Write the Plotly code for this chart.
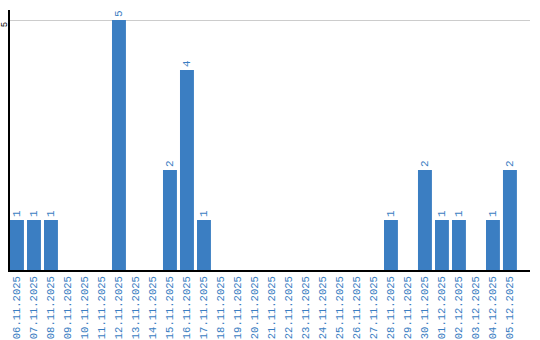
import plotly.graph_objects as go

dates = ["06.11.2025","07.11.2025","08.11.2025","09.11.2025","10.11.2025","11.11.2025",
         "12.11.2025","13.11.2025","14.11.2025","15.11.2025","16.11.2025","17.11.2025",
         "18.11.2025","19.11.2025","20.11.2025","21.11.2025","22.11.2025","23.11.2025",
         "24.11.2025","25.11.2025","26.11.2025","27.11.2025","28.11.2025","29.11.2025",
         "30.11.2025","01.12.2025","02.12.2025","03.12.2025","04.12.2025","05.12.2025"]
counts = [1,1,1,0,0,0,5,0,0,2,4,1,0,0,0,0,0,0,0,0,0,0,1,0,2,1,1,0,1,2]

blue = "#3b7ec2"
labels = [str(v) if v else "" for v in counts]

fig = go.Figure(go.Bar(
    x=list(range(len(dates))), y=counts, marker_color=blue, marker_line_width=0,
    text=labels, textposition="outside", textangle=-90, cliponaxis=False,
    textfont=dict(color=blue, size=11, family="Liberation Mono"),
))
fig.update_layout(
    width=540, height=340, margin=dict(l=10, r=10, t=10, b=70, autoexpand=False),
    paper_bgcolor="white", plot_bgcolor="white", bargap=0.18, showlegend=False,
    xaxis=dict(tickmode="array", tickvals=list(range(len(dates))), ticktext=dates,
               tickangle=-90, range=[-0.41, 30.18], showline=True, linecolor="black",
               linewidth=2, showgrid=False, zeroline=False, ticks="", automargin=False,
               ticklabelstandoff=0,
               tickfont=dict(color=blue, size=10.5, family="Liberation Mono")),
    yaxis=dict(range=[0, 5.2], tickvals=[5], ticktext=["5"], tickangle=-90,
               showline=True, linecolor="black", linewidth=2, gridcolor="#cccccc",
               zeroline=False, ticks="", ticklen=0, automargin=False,
               ticklabelstandoff=-3, ticklabelshift=6,
               tickfont=dict(color="black", size=9, family="Liberation Mono")),
)
fig.write_html("out.html")
